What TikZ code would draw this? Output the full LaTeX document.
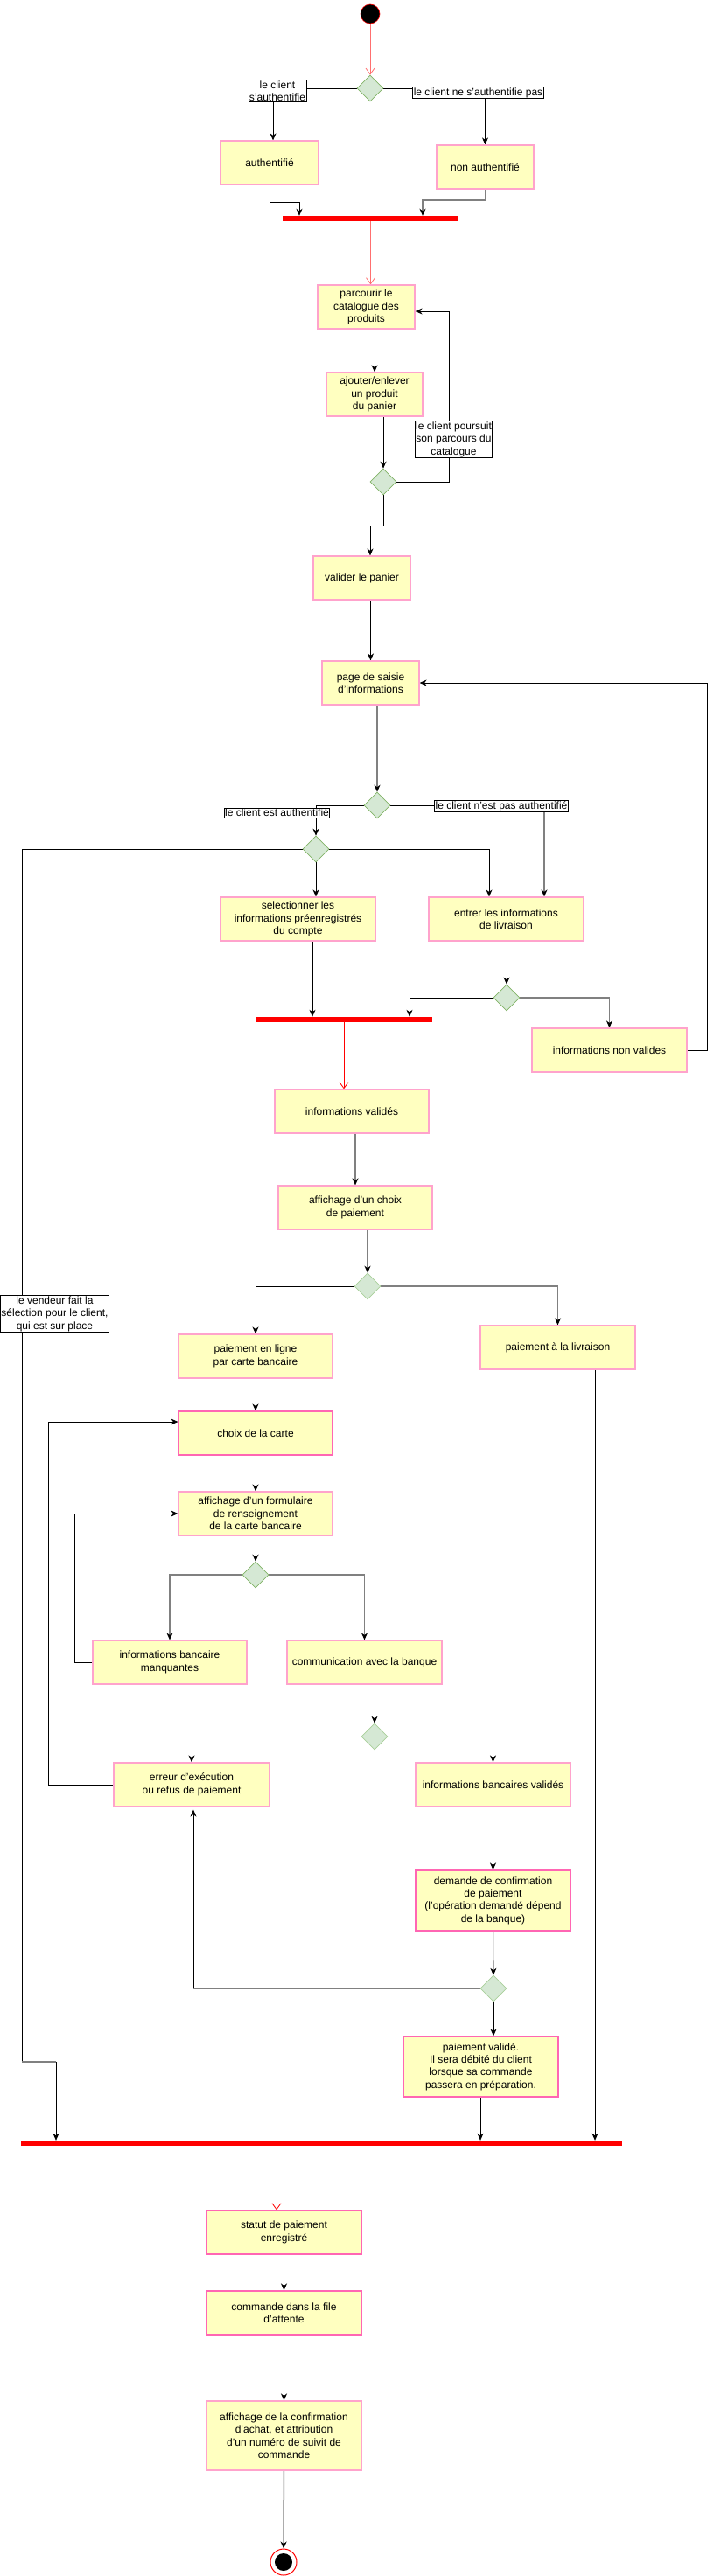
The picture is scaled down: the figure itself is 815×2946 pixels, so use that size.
\documentclass[tikz,border=0pt]{standalone}
\usepackage{fontspec}
\setmainfont{Liberation Sans}
\usetikzlibrary{shapes.geometric,arrows.meta,calc}
\pgfdeclarelayer{back}
\pgfdeclarelayer{bg}
\pgfsetlayers{back,bg,main}
\definecolor{actfill}{HTML}{FFFFC0}
\definecolor{pinkA}{HTML}{FFA3CC}
\definecolor{pinkB}{HTML}{FF66B3}
\definecolor{decfill}{HTML}{D5E8D4}
\definecolor{decdraw}{HTML}{82B366}
\definecolor{declight}{HTML}{A9CF9A}
\definecolor{lgray}{HTML}{808080}
\definecolor{salmon}{HTML}{FF6F6F}
\begin{document}
\begin{tikzpicture}[x=1pt,y=-1pt,
  every node/.style={font=\fontsize{12}{14.4}\selectfont, text=black},
  act/.style={rectangle, draw=pinkA, fill=actfill, line width=1.2pt, align=center, inner sep=0pt, minimum width=177pt, minimum height=50pt},
  dec/.style={diamond, draw=decdraw, fill=decfill, line width=0.6pt, minimum width=30pt, minimum height=30pt, inner sep=0pt},
  lbl/.style={rectangle, draw=black, fill=white, line width=0.8pt, inner sep=1pt, align=center},
  barnode/.style={rectangle, fill=red, draw=none, minimum height=6pt, inner sep=0pt},
  conn/.style={draw=black, line width=0.8pt, -{Stealth[length=8pt,width=7pt,inset=2.5pt]}},
  gconn/.style={draw=lgray, line width=1.5pt, -{Stealth[length=8pt,width=7pt,inset=2.5pt,color=black]}},
  plainln/.style={draw=black, line width=0.8pt},
  gplain/.style={draw=lgray, line width=1.5pt},
  rconnA/.style={draw=salmon, line width=0.8pt, -{Straight Barb[length=7pt,width=10pt]}},
  rconn/.style={draw=red, line width=0.8pt, -{Straight Barb[length=7pt,width=10pt]}}
]
\begin{pgfonlayer}{back}
\fill[white] (0,0) rectangle (815,2946);
\end{pgfonlayer}
\useasboundingbox (0,0) rectangle (815,2946);

% ---------- nodes ----------
\node[circle, fill=black, draw=red, line width=0.6pt, minimum size=22pt, inner sep=0pt] (start) at (423,16) {};
\node[dec] (d1) at (423,101) {};
\node[act, minimum width=112pt] (auth) at (308,186) {authentifié};
\node[act, minimum width=111pt] (nonauth) at (554.5,191) {non authentifié};
\node[barnode, minimum width=201pt] (bar1) at (423.5,250) {};
\node[act, minimum width=111pt] (parc) at (418.5,351) {parcourir le\\catalogue des\\produits};
\node[act, minimum width=110pt] (ajout) at (428,451) {ajouter/enlever\\un produit\\du panier};
\node[dec] (d2) at (438,551) {};
\node[act, minimum width=111pt] (valid) at (413.5,661) {valider le panier};
\node[act, minimum width=111pt] (saisie) at (423.5,781) {page de saisie\\d'informations};
\node[dec] (d3) at (431,921) {};
\node[dec] (d4) at (361,971) {};
\node[act] (select) at (340.5,1051) {selectionner les\\informations préenregistrés\\du compte};
\node[act] (entrer) at (578.5,1051) {entrer les informations\\de livraison};
\node[dec] (d5) at (579,1141) {};
\node[barnode, minimum width=202pt] (bar2) at (393,1166) {};
\node[act] (nonval) at (696.5,1201) {informations non valides};
\node[act, minimum width=176pt] (valides) at (402,1271) {informations validés};
\node[act, minimum width=176pt] (choixp) at (406,1381) {affichage d'un choix\\de paiement};
\node[dec, draw=declight] (d6) at (420,1471) {};
\node[act, minimum width=176pt] (enligne) at (292,1551) {paiement en ligne\\par carte bancaire};
\node[act] (livr) at (637.5,1541) {paiement à la livraison};
\node[act, draw=pinkB, minimum width=176pt] (carte) at (292,1639) {choix de la carte};
\node[act, minimum width=176pt] (form) at (292,1731) {affichage d'un formulaire\\de renseignement\\de la carte bancaire};
\node[dec] (d7) at (292,1801) {};
\node[act, minimum width=176pt] (manq) at (194,1901) {informations bancaire\\manquantes};
\node[act] (comm) at (416.5,1901) {communication avec la banque};
\node[dec, draw=declight] (d8) at (428,1986) {};
\node[act, minimum width=178pt] (err) at (219,2041) {erreur d'exécution\\ou refus de paiement};
\node[act] (bval) at (563.5,2041) {informations bancaires validés};
\node[act, draw=pinkB, minimum height=69pt] (dem) at (563.5,2173.5) {demande de confirmation\\de paiement\\(l'opération demandé dépend\\de la banque)};
\node[dec, draw=declight] (d9) at (564,2274) {};
\node[act, draw=pinkB, minimum height=69pt] (pval) at (549.5,2363.5) {paiement validé.\\Il sera débité du client\\lorsque sa commande\\passera en préparation.};
\node[barnode, minimum width=687pt] (bar3) at (367.5,2451) {};
\node[act, draw=pinkB] (statut) at (324.5,2553) {statut de paiement\\enregistré};
\node[act, draw=pinkB] (cmd) at (324.5,2645) {commande dans la file\\d'attente};
\node[act, minimum height=79pt] (conf) at (324.5,2785.5) {affichage de la confirmation\\d'achat, et attribution\\d'un numéro de suivit de\\commande};
\node[circle, draw=red, fill=white, line width=1pt, minimum size=30pt, inner sep=0pt] (end) at (324,2930) {};
\node[circle, fill=black, minimum size=20pt, inner sep=0pt] (endin) at (end.center) {};

% labels
\node[lbl] (lab1) at (317,104) {le client\\s'authentifie};
\node[lbl] (lab2) at (546.5,106) {le client ne s'authentifie pas};
\node[lbl] (lab3) at (518.5,502.5) {le client poursuit\\son parcours du\\catalogue};
\node[lbl] (lab4) at (316.5,929.5) {le client est authentifié};
\node[lbl] (lab5) at (573,922) {le client n'est pas authentifié};
\node[lbl] (lab6) at (62.5,1502.5) {le vendeur fait la\\sélection pour le client,\\qui est sur place};

% ---------- connectors ----------
\begin{pgfonlayer}{bg}
\draw[rconnA] (start) -- (d1);
\draw[conn] (d1.west) -| ($(auth.north)+(4,0)$);
\draw[conn] (d1.east) -| (nonauth.north);
\draw[conn] (auth.south) |- (342,231) -- (342,0 |- bar1.north);
\draw[gconn] (nonauth.south) |- (483,229) -- (483,0 |- bar1.north);
\draw[rconnA] (bar1.south) -- (bar1.south |- parc.north);
\draw[conn] (ajout.north |- parc.south) -- (ajout.north);
\draw[conn] (d2.north |- ajout.south) -- (d2.north);
\draw[conn] (d2.east) -| (513,356) -- ([yshift=-5pt]parc.east);
\draw[conn] (d2.south) |- (423,601) -- (423,0 |- valid.north);
\draw[conn] (saisie.north |- valid.south) -- (saisie.north);
\draw[gconn] (d3.north |- saisie.south) -- (d3.north);
\draw[conn] (d3.west) -| (d4.north);
\draw[plainln] (d3.east) -- (lab5.west |- d3.east);
\draw[gconn] (622,0 |- lab5.south) -- (622,0 |- entrer.north);
\draw[conn] (d4.east) -| (559,0 |- entrer.north);
\draw[conn] (d4.south) -- (d4.south |- select.north);
\draw[plainln] (d4.west) -| (25,2358);
\draw[gplain] (25,2358) -- (64,2358);
\draw[conn] (64,2358) -- (64,0 |- bar3.north);
\draw[conn] (357,0 |- select.south) -- (357,0 |- bar2.north);
\draw[conn] (d5.north |- entrer.south) -- (d5.north);
\draw[conn] (d5.west) -| (468,0 |- bar2.north);
\draw[gconn] (d5.east) -| (nonval.north);
\draw[conn] (nonval.east) -- ++(23,0) |- (saisie.east);
\draw[rconn] (bar2.south) -- (bar2.south |- valides.north);
\draw[gconn] (choixp.north |- valides.south) -- (choixp.north);
\draw[gconn] (d6.north |- choixp.south) -- (d6.north);
\draw[conn] (d6.west) -| (enligne.north);
\draw[gconn] (d6.east) -| (livr.north);
\draw[conn] (680,0 |- livr.south) -- (680,0 |- bar3.north);
\draw[conn] (enligne) -- (carte);
\draw[conn] (carte) -- (form);
\draw[conn] (form) -- (d7);
\draw[gconn] (d7.west) -| (manq.north);
\draw[gconn] (d7.east) -| (comm.north);
\draw[conn] (manq.west) -- (85,0 |- manq.west) |- (form.west);
\draw[conn] (d8.north |- comm.south) -- (d8.north);
\draw[conn] (d8.west) -| (err.north);
\draw[conn] (d8.east) -| (bval.north);
\draw[conn] (err.west) -- (55,0 |- err.west) |- ([yshift=13pt]carte.west);
\draw[gconn] (bval) -- (dem);
\draw[conn] (dem) -- (d9);
\draw[conn] (d9.west) -| ($(err.south)+(2,3)$);
\draw[gplain] (d9.west) -- (221,0 |- d9.west);
\draw[conn] (d9.south) -- (d9.south |- pval.north);
\draw[conn] (549,0 |- pval.south) -- (549,0 |- bar3.north);
\draw[rconn] (316,0 |- bar3.south) -- (316,0 |- statut.north);
\draw[gconn] (statut) -- (cmd);
\draw[gconn] (cmd) -- (conf);
\draw[gconn] (conf) -- (end);
\end{pgfonlayer}
\end{tikzpicture}
\end{document}
